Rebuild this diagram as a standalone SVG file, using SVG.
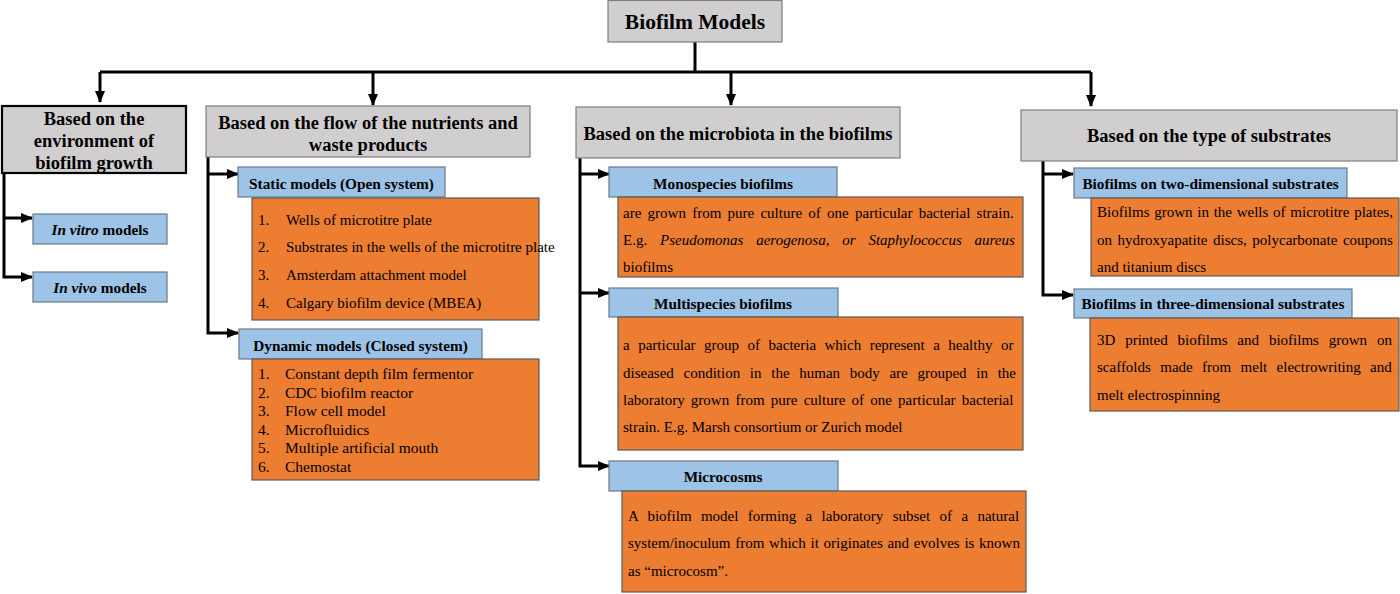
<svg xmlns="http://www.w3.org/2000/svg" width="1400" height="594" viewBox="0 0 1400 594">
<defs>
<marker id="ah" markerUnits="userSpaceOnUse" markerWidth="12" markerHeight="12" viewBox="0 0 12 12" refX="11" refY="6" orient="auto">
<path d="M0,1 L12,6 L0,11 Z" fill="#000"/>
</marker>
</defs>
<style>
text{font-family:"Liberation Serif","Times New Roman",serif;fill:#000}
.gray{fill:#d0cece;stroke:#7f7f7f;stroke-width:1.2}
.blue{fill:#9dc3e6;stroke:#6a7a8a;stroke-width:1.2}
.orange{fill:#ed7d31;stroke:#5a5a5a;stroke-width:1.2}
.h1{font-size:21.5px;font-weight:bold;text-anchor:middle}
.h2{font-size:18.5px;font-weight:bold;text-anchor:middle}
.h3{font-size:15.3px;font-weight:bold;text-anchor:middle}
.t{font-size:15px}
.d{font-size:15.5px}
.c{fill:none;stroke:#000;stroke-width:3}
</style>

<g id="connectors">
<path class="c" d="M695,42 V72"/>
<path class="c" d="M100,72 H1091"/>
<path class="c" d="M100,72 V102" marker-end="url(#ah)"/>
<path class="c" d="M373,72 V105" marker-end="url(#ah)"/>
<path class="c" d="M731,72 V105" marker-end="url(#ah)"/>
<path class="c" d="M1091,72 V106" marker-end="url(#ah)"/>
<path class="c" d="M4,173 V277 H32" marker-end="url(#ah)"/>
<path class="c" d="M4,218 H32" marker-end="url(#ah)"/>
<path class="c" d="M208,157 V333 H238" marker-end="url(#ah)"/>
<path class="c" d="M208,174 H238" marker-end="url(#ah)"/>
<path class="c" d="M580,158 V466 H609" marker-end="url(#ah)"/>
<path class="c" d="M580,174 H609" marker-end="url(#ah)"/>
<path class="c" d="M580,293 H609" marker-end="url(#ah)"/>
<path class="c" d="M1043,161 V295 H1073" marker-end="url(#ah)"/>
<path class="c" d="M1043,174 H1073" marker-end="url(#ah)"/>
</g>

<g id="root">
<rect class="gray" x="608" y="0.5" width="174" height="41.5"/>
<text class="h1" x="695" y="29">Biofilm Models</text>
</g>

<g id="cat-environment">
<rect x="2" y="106" width="184" height="67" fill="#d0cece" stroke="#000" stroke-width="2.2"/>
<text class="h2" x="94" y="125">Based on the</text>
<text class="h2" x="94" y="147">environment of</text>
<text class="h2" x="94" y="169">biofilm growth</text>
</g>

<g id="cat-flow">
<rect class="gray" x="206" y="106" width="324" height="51"/>
<text class="h2" x="368" y="129">Based on the flow of the nutrients and</text>
<text class="h2" x="368" y="151">waste products</text>
</g>

<g id="cat-microbiota">
<rect class="gray" x="576" y="107" width="324" height="51"/>
<text class="h2" x="738" y="140">Based on the microbiota in the biofilms</text>
</g>

<g id="cat-substrates">
<rect class="gray" x="1021" y="110" width="376" height="51"/>
<text class="h2" x="1209" y="142">Based on the type of substrates</text>
</g>

<g id="in-vitro">
<rect class="blue" x="33" y="214" width="134" height="30"/>
<text class="h3" x="100" y="235"><tspan font-style="italic">In vitro</tspan> models</text>
</g>

<g id="in-vivo">
<rect class="blue" x="33" y="272" width="134" height="30"/>
<text class="h3" x="100" y="293"><tspan font-style="italic">In vivo</tspan> models</text>
</g>

<g id="static">
<rect class="blue" x="238" y="167" width="207" height="30"/>
<text class="h3" x="341.5" y="189">Static models (Open system)</text>
</g>

<g id="static-list">
<rect class="orange" x="252" y="198" width="287" height="122"/>
<text class="t" x="258" y="225">1.</text><text class="t" x="286" y="225">Wells of microtitre plate</text>
<text class="t" x="258" y="252">2.</text><text class="t" x="286" y="252">Substrates in the wells of the microtitre plate</text>
<text class="t" x="258" y="280">3.</text><text class="t" x="286" y="280">Amsterdam attachment model</text>
<text class="t" x="258" y="308">4.</text><text class="t" x="286" y="308">Calgary biofilm device (MBEA)</text>
</g>

<g id="dynamic">
<rect class="blue" x="239" y="329" width="243" height="30"/>
<text class="h3" x="360.5" y="351">Dynamic models (Closed system)</text>
</g>

<g id="dynamic-list">
<rect class="orange" x="252" y="359" width="287" height="121"/>
<text class="d" x="258" y="379">1.</text><text class="d" x="285" y="379">Constant depth film fermentor</text>
<text class="d" x="258" y="397.5">2.</text><text class="d" x="285" y="397.5">CDC biofilm reactor</text>
<text class="d" x="258" y="416">3.</text><text class="d" x="285" y="416">Flow cell model</text>
<text class="d" x="258" y="434.5">4.</text><text class="d" x="285" y="434.5">Microfluidics</text>
<text class="d" x="258" y="453">5.</text><text class="d" x="285" y="453">Multiple artificial mouth</text>
<text class="d" x="258" y="471.5">6.</text><text class="d" x="285" y="471.5">Chemostat</text>
</g>

<g id="monospecies">
<rect class="blue" x="609" y="167" width="228" height="30"/>
<text class="h3" x="723" y="189">Monospecies biofilms</text>
</g>

<g id="monospecies-text">
<rect class="orange" x="618" y="197" width="405" height="80"/>
<text class="t" x="623" y="218" word-spacing="2.5">are grown from pure culture of one particular bacterial strain.</text>
<text class="t" x="623" y="245" word-spacing="9.1">E.g. <tspan font-style="italic">Pseudomonas aerogenosa, or Staphylococcus aureus</tspan></text>
<text class="t" x="623" y="272">biofilms</text>
</g>

<g id="multispecies">
<rect class="blue" x="609" y="288" width="229" height="29"/>
<text class="h3" x="723" y="309">Multispecies biofilms</text>
</g>

<g id="multispecies-text">
<rect class="orange" x="618" y="317" width="405" height="133"/>
<text class="t" x="623" y="350" word-spacing="4.74">a particular group of bacteria which represent a healthy or</text>
<text class="t" x="623" y="378" word-spacing="5.94">diseased condition in the human body are grouped in the</text>
<text class="t" x="623" y="405" word-spacing="2.47">laboratory grown from pure culture of one particular bacterial</text>
<text class="t" x="623" y="432">strain. E.g. Marsh consortium or Zurich model</text>
</g>

<g id="microcosms">
<rect class="blue" x="609" y="461" width="229" height="30"/>
<text class="h3" x="723" y="482">Microcosms</text>
</g>

<g id="microcosms-text">
<rect class="orange" x="622" y="491" width="404" height="101"/>
<text class="t" x="628" y="521" word-spacing="5.64">A biofilm model forming a laboratory subset of a natural</text>
<text class="t" x="628" y="548" word-spacing="0.98">system/inoculum from which it originates and evolves is known</text>
<text class="t" x="628" y="576">as “microcosm”.</text>
</g>

<g id="two-dimensional">
<rect class="blue" x="1074" y="168" width="273" height="30"/>
<text class="h3" x="1210.5" y="189">Biofilms on two-dimensional substrates</text>
</g>

<g id="two-dimensional-text">
<rect class="orange" x="1091" y="198" width="308" height="78"/>
<text class="t" x="1097" y="217" word-spacing="0.97">Biofilms grown in the wells of microtitre plates,</text>
<text class="t" x="1097" y="245" word-spacing="1.8">on hydroxyapatite discs, polycarbonate coupons</text>
<text class="t" x="1097" y="272">and titanium discs</text>
</g>

<g id="three-dimensional">
<rect class="blue" x="1074" y="289" width="278" height="29"/>
<text class="h3" x="1213" y="309">Biofilms in three-dimensional substrates</text>
</g>

<g id="three-dimensional-text">
<rect class="orange" x="1090" y="318" width="309" height="93"/>
<text class="t" x="1097" y="345" word-spacing="6.1">3D printed biofilms and biofilms grown on</text>
<text class="t" x="1097" y="372" word-spacing="5.6">scaffolds made from melt electrowriting and</text>
<text class="t" x="1097" y="400">melt electrospinning</text>
</g>
</svg>
